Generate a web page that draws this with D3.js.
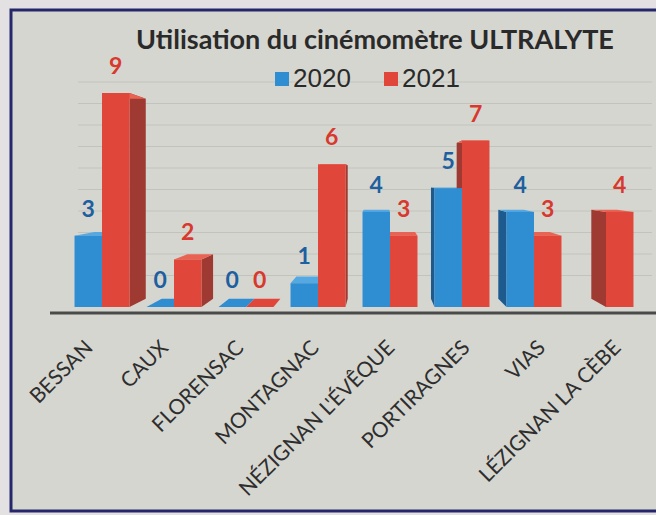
<!DOCTYPE html>
<html>
<head>
<meta charset="utf-8">
<script src="https://cdn.jsdelivr.net/npm/d3@7"></script>
<style>
  body { margin: 0; background: #e6e2e4; }
  svg { display: block; }
</style>
</head>
<body>
<svg id="chart"></svg>
<script>
// Data
const categories = ["BESSAN", "CAUX", "FLORENSAC", "MONTAGNAC", "NÉZIGNAN L'ÉVÊQUE", "PORTIRAGNES", "VIAS", "LÉZIGNAN LA CÈBE"];
const series = ["2020", "2021"];
const values2020 = [3, 0, 0, 1, 4, 5, 4, null];
const values2021 = [9, 2, 0, 6, 3, 7, 3, 4];
const gridTicks = [1, 2, 3, 4, 5, 6, 7, 8, 9, 10];

const W = 656, H = 515;
const colors = {
  "2020": { front: "#2f8dd2", side: "#1d5a8e", top: "#55a9e2", label: "#1d5f9f" },
  "2021": { front: "#e1463a", side: "#9e3a32", top: "#ea6252", label: "#d8382d" }
};

const svg = d3.select("#chart").attr("width", W).attr("height", H);

// photo frame + panel
svg.append("rect").attr("x", 0).attr("y", 0).attr("width", W).attr("height", H).attr("fill", "#e4e1e3");
svg.append("rect").attr("x", 11).attr("y", 10).attr("width", W).attr("height", 501)
    .attr("fill", "#d6d6d0").attr("stroke", "#26276a").attr("stroke-width", 3);

const base = 307;
const y = d3.scaleLinear().domain([0, 9]).range([base, 93]);
const yBack = d3.scaleLinear().domain([0, 10]).range([297, 82]);

const x0 = d3.scaleBand().domain(categories).range([66, 642]);
const x1 = d3.scaleBand().domain(series).range([0, x0.bandwidth()]).paddingOuter(0.31);
const xLab = d3.scalePoint().domain(categories).range([94, 622]);

// simple perspective for the 3D look
const vp = { x: 380, y: 180 }, depth = 0.065;
const proj = (px, py) => [px + (vp.x - px) * depth, py + (vp.y - py) * depth];

// back wall gridlines
svg.append("g").selectAll("line")
  .data(gridTicks)
  .enter().append("line")
    .attr("x1", 78).attr("x2", 652)
    .attr("y1", d => yBack(d)).attr("y2", d => yBack(d))
    .attr("stroke", "#c3c3bd").attr("stroke-width", 1.2);

// flatten bars
const bars = [];
categories.forEach((c, i) => {
  [values2020[i], values2021[i]].forEach((v, k) => {
    if (v == null) return;
    const s = series[k];
    const xa = x0(c) + x1(s), xb = xa + x1.bandwidth();
    bars.push({ cat: c, s, v, xa, xb, yt: y(v) });
  });
});

const pts = arr => arr.map(p => p.join(",")).join(" ");

// side + top faces first
const back = svg.append("g");
bars.forEach(b => {
  const col = colors[b.s];
  let ex = null;
  if (b.xb < vp.x) ex = b.xb; else if (b.xa > vp.x) ex = b.xa;
  if (ex !== null) {
    back.append("polygon")
      .attr("points", pts([[ex, b.yt], proj(ex, b.yt), proj(ex, base), [ex, base]]))
      .attr("fill", col.side);
  }
  back.append("polygon")
    .attr("points", pts([[b.xa, b.yt], [b.xb, b.yt], proj(b.xb, b.yt), proj(b.xa, b.yt)]))
    .attr("fill", b.v === 0 ? col.front : col.top);
});

// front faces
svg.append("g").selectAll("rect")
  .data(bars)
  .enter().append("rect")
    .attr("x", d => d.xa)
    .attr("y", d => d.yt)
    .attr("width", d => d.xb - d.xa)
    .attr("height", d => base - d.yt)
    .attr("fill", d => colors[d.s].front);

// value labels
svg.append("g").selectAll("text")
  .data(bars)
  .enter().append("text")
    .attr("x", d => (d.xa + d.xb) / 2)
    .attr("y", d => d.yt - 19)
    .attr("text-anchor", "middle")
    .attr("font-family", "Lato, 'Open Sans', sans-serif")
    .attr("font-weight", "bold")
    .attr("font-size", 23)
    .attr("fill", d => colors[d.s].label)
    .text(d => d.v);

// floor line
svg.append("line")
    .attr("x1", 50).attr("x2", W)
    .attr("y1", 313).attr("y2", 313)
    .attr("stroke", "#4a4a4a").attr("stroke-width", 3);

// category labels
svg.append("g").selectAll("text")
  .data(categories)
  .enter().append("text")
    .attr("transform", d => `translate(${xLab(d)},349) rotate(-45)`)
    .attr("text-anchor", "end")
    .attr("font-family", "Lato, 'Open Sans', sans-serif")
    .attr("font-size", 21)
    .attr("fill", "#2e2e2e")
    .text(d => d);

// title
svg.append("text")
    .attr("x", 375).attr("y", 49)
    .attr("text-anchor", "middle")
    .attr("font-family", "Lato, 'Open Sans', sans-serif")
    .attr("font-weight", "bold")
    .attr("font-size", 27)
    .attr("fill", "#2a2a2a")
    .text("Utilisation du cinémomètre ULTRALYTE");

// legend
const legendX = [275, 384];
const legend = svg.append("g").selectAll("g")
  .data(series)
  .enter().append("g")
    .attr("transform", (d, i) => `translate(${legendX[i]},0)`);
legend.append("rect")
    .attr("x", 0).attr("y", 72).attr("width", 14).attr("height", 14)
    .attr("fill", d => colors[d].front);
legend.append("text")
    .attr("x", 18).attr("y", 87)
    .attr("font-family", "'Liberation Sans', Arial, sans-serif")
    .attr("font-size", 26)
    .attr("fill", "#2a2a2a")
    .text(d => d);
</script>
</body>
</html>
